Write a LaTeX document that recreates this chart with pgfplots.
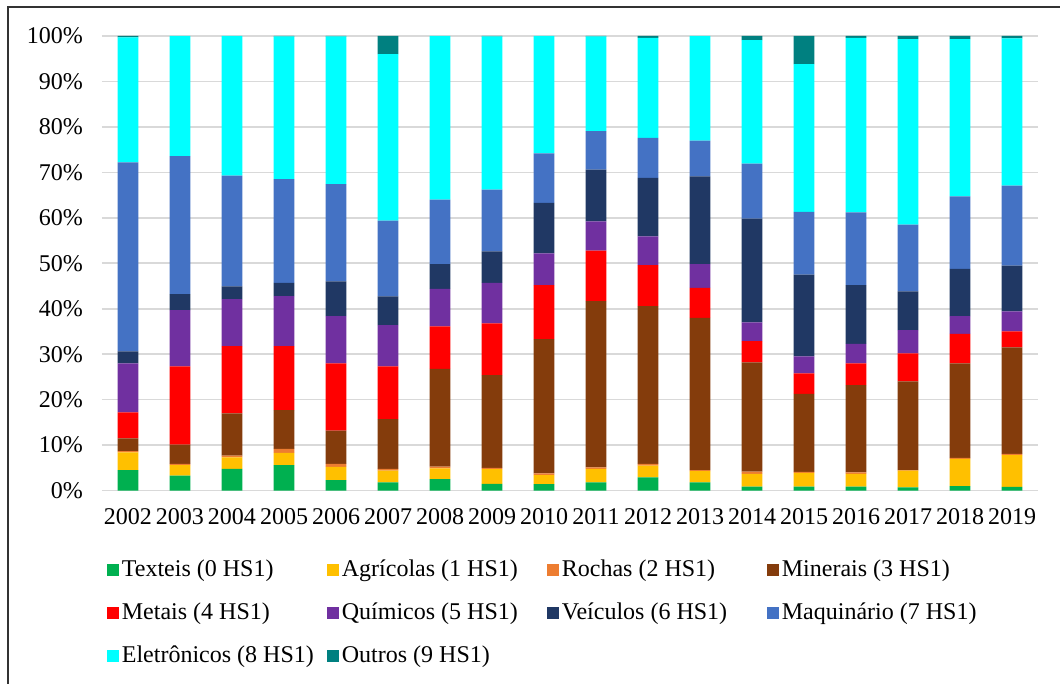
\documentclass[border=0pt]{standalone}
\usepackage{fontspec}
\setmainfont{Liberation Serif}
\usepackage{pgfplots}
\usepackage{pgfplotstable}
\pgfplotsset{compat=1.18}

\definecolor{cTex}{HTML}{00B050}
\definecolor{cAgr}{HTML}{FFC000}
\definecolor{cRoc}{HTML}{ED7D31}
\definecolor{cMin}{HTML}{843C0C}
\definecolor{cMet}{HTML}{FF0000}
\definecolor{cQui}{HTML}{7030A0}
\definecolor{cVei}{HTML}{203864}
\definecolor{cMaq}{HTML}{4472C4}
\definecolor{cEle}{HTML}{00FFFF}
\definecolor{cOut}{HTML}{008080}
\definecolor{gridc}{HTML}{D9D9D9}

% shares in percent, 2002..2019
\pgfplotstableread{
x  tex agr roc min  met  qui  vei  maq  ele  out
0  4.5 3.9 0.3 2.8  5.7  10.8 2.6  41.6 27.5 0.3
1  3.3 2.3 0.3 4.2  17.2 12.4 3.5  30.4 26.4 0.0
2  4.8 2.5 0.4 9.3  14.8 10.3 2.8  24.4 30.7 0.0
3  5.6 2.7 0.9 8.5  14.1 11.0 2.9  22.8 31.4 0.1
4  2.3 2.9 0.7 7.3  14.8 10.4 7.6  21.4 32.5 0.1
5  1.8 2.6 0.4 10.9 11.6 9.1  6.3  16.7 36.6 4.0
6  2.5 2.4 0.4 21.5 9.3  8.3  5.4  14.2 36.0 0.0
7  1.5 3.2 0.3 20.4 11.4 8.9  6.9  13.6 33.7 0.1
8  1.4 2.0 0.4 29.5 11.9 7.0  11.1 10.9 25.8 0.0
9  1.8 3.0 0.3 36.6 11.1 6.4  11.4 8.5  20.8 0.1
10 2.9 2.6 0.4 34.7 9.0  6.3  12.9 8.8  22.0 0.4
11 1.8 2.5 0.2 33.5 6.6  5.2  19.3 7.9  23.0 0.0
12 0.9 2.8 0.5 24.0 4.7  4.1  22.8 12.1 27.2 0.9
13 0.9 3.0 0.2 17.2 4.5  3.7  18.0 13.8 32.5 6.2
14 0.9 2.8 0.3 19.2 4.8  4.3  12.9 16.0 38.4 0.4
15 0.7 3.7 0.1 19.5 6.2  5.1  8.5  14.7 40.8 0.7
16 1.0 6.0 0.2 20.8 6.5  3.9  10.4 15.9 34.6 0.7
17 0.8 7.0 0.3 23.4 3.5  4.4  10.1 17.6 32.4 0.5
}\data

\newcommand{\lent}[1]{\makebox[101.5pt][l]{#1}}

\begin{document}
\begin{tikzpicture}
\useasboundingbox (-51pt,-96.7pt) rectangle (479pt,245.3pt);
\begin{axis}[
    at={(0,0)}, anchor=south west,
    scale only axis,
    width=468pt, height=227.3pt,
    ybar stacked,
    bar width=10.3pt,
    xmin=-0.5, xmax=17.5,
    ymin=0, ymax=100,
    xtick={0,...,17},
    xticklabels={2002,2003,2004,2005,2006,2007,2008,2009,2010,2011,2012,2013,2014,2015,2016,2017,2018,2019},
    ytick={0,10,...,100},
    yticklabels={0\%,10\%,20\%,30\%,40\%,50\%,60\%,70\%,80\%,90\%,100\%},
    ymajorgrids,
    grid style={draw=gridc, line width=0.8pt},
    axis line style={draw=none},
    major tick length=0pt,
    tick label style={font=\fontsize{12}{14}\selectfont},
    xticklabel style={yshift=-5.5pt},
    yticklabel style={xshift=-6pt},
    legend columns=4,
    legend image code/.code={\fill[#1] (0pt,-3pt) rectangle (6pt,3pt);},
    legend style={
        at={(0,0)}, anchor=north west,
        xshift=2.5pt, yshift=-33.3pt,
        draw=none, fill=none, inner sep=0pt,
        row sep=9.1pt, column sep=0pt,
        nodes={inner sep=1.25pt},
        font=\fontsize{12}{14}\selectfont,
    },
    legend cell align=left,
]
\addplot[fill=cTex, draw=none] table[x=x, y=tex] {\data};
\addlegendentry{\lent{Texteis (0 HS1)}}
\addplot[fill=cAgr, draw=none] table[x=x, y=agr] {\data};
\addlegendentry{\lent{Agrícolas (1 HS1)}}
\addplot[fill=cRoc, draw=none] table[x=x, y=roc] {\data};
\addlegendentry{\lent{Rochas (2 HS1)}}
\addplot[fill=cMin, draw=none] table[x=x, y=min] {\data};
\addlegendentry{\lent{Minerais (3 HS1)}}
\addplot[fill=cMet, draw=none] table[x=x, y=met] {\data};
\addlegendentry{\lent{Metais (4 HS1)}}
\addplot[fill=cQui, draw=none] table[x=x, y=qui] {\data};
\addlegendentry{\lent{Químicos (5 HS1)}}
\addplot[fill=cVei, draw=none] table[x=x, y=vei] {\data};
\addlegendentry{\lent{Veículos (6 HS1)}}
\addplot[fill=cMaq, draw=none] table[x=x, y=maq] {\data};
\addlegendentry{\lent{Maquinário (7 HS1)}}
\addplot[fill=cEle, draw=none] table[x=x, y=ele] {\data};
\addlegendentry{\lent{Eletrônicos (8 HS1)}}
\addplot[fill=cOut, draw=none] table[x=x, y=out] {\data};
\addlegendentry{\lent{Outros (9 HS1)}}
\end{axis}
\draw[black!80, line width=0.7pt] (-47pt,-120pt) -- (-47pt,241.8pt) -- (500pt,241.8pt);
\end{tikzpicture}
\end{document}
